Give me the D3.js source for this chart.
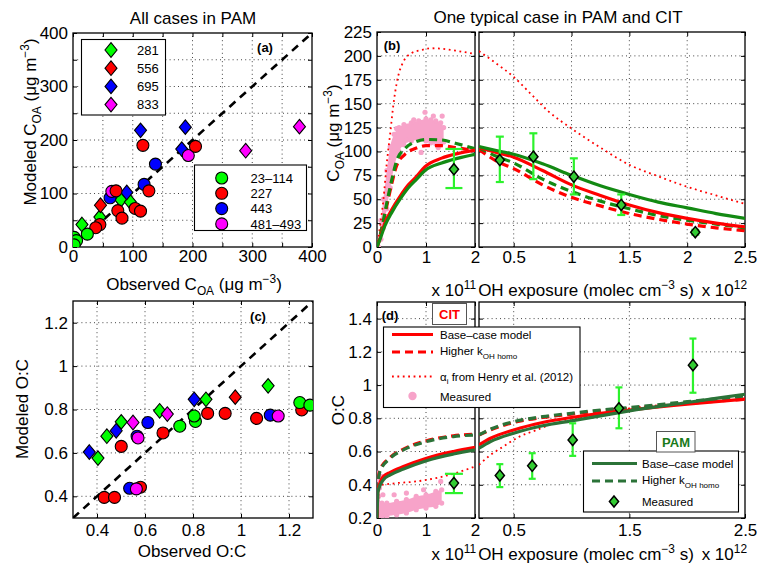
<!DOCTYPE html>
<html>
<head>
<meta charset="utf-8">
<script src="https://cdn.jsdelivr.net/npm/d3@7"></script>
<style>
  body { margin: 0; background: #fff; }
  svg { display: block; }
</style>
</head>
<body>
<svg id="fig" width="757" height="568"></svg>
<script>
const FONT = '"Liberation Sans", Arial, Helvetica, sans-serif';

// ---------- (a) all cases in PAM: observed vs modeled C_OA (ug m-3)
const aCircleRed = [[117,190],[205,188],[72,105],[127,105],[75,68],[104,72],[113,67],[82,54],[45,42],[38,36]];
const aCircleGreen = [[2,18],[6,12],[2,4],[24,24]];
const aCircleBlue = [[138,155],[119,117],[62,92]];
const aCircleMagenta = [[193,171],[65,104]];
const aDiamondGreen = [[15,42],[45,56],[80,88],[96,84]];
const aDiamondRed = [[46,78]];
const aDiamondBlue = [[113,218],[188,224],[182,183],[90,102]];
const aDiamondMagenta = [[379,225],[289,180]];

// ---------- (c) all cases in PAM: observed vs modeled O:C
const cCircleRed = [[0.43,0.395],[0.473,0.395],[0.501,0.63],[0.581,0.442],[0.675,0.692],[0.861,0.782],[0.934,0.782],[1.065,0.759],[1.253,0.798]];
const cCircleGreen = [[0.745,0.723],[0.81,0.745],[0.805,0.77],[1.245,0.832],[1.287,0.82]];
const cCircleBlue = [[0.536,0.437],[0.567,0.677],[0.612,0.74],[1.122,0.774]];
const cCircleMagenta = [[0.564,0.434],[0.571,0.669],[1.155,0.77]];
const cDiamondGreen = [[0.404,0.576],[0.441,0.677],[0.501,0.743],[0.661,0.794],[0.854,0.847],[1.113,0.909]];
const cDiamondRed = [[0.976,0.857]];
const cDiamondBlue = [[0.368,0.604],[0.48,0.702],[0.805,0.847]];
const cDiamondMagenta = [[0.55,0.74],[0.693,0.779]];

const legendDiamonds = ['281', '556', '695', '833'];
const legendCircles = ['23\u2013114', '227', '443', '481\u2013493'];
const groupColors = ['#00ff00', '#ff0000', '#0000ff', '#ff00ff'];

// ---------- (b) typical case, C_OA. CIT in 1e11 molec cm-3 s, PAM in 1e12
const bCitX = [0, 0.06, 0.16, 0.3, 0.47, 0.64, 0.81, 0.98, 1.32, 1.66, 2.0];
const bCitBaseRed = [0, 9, 25, 39, 53, 65, 74, 84, 93, 98, 101.5];
const bCitBaseGreen = [0, 8, 22, 36, 50, 62, 71, 80, 88, 93, 97];
const bCitHighX = [0, 0.1, 0.2, 0.3, 0.4, 0.57, 0.78, 1.0, 1.32, 1.6, 2.0];
const bCitHighGreen = [0, 20, 46, 70, 90, 103, 110, 112.5, 112, 108.5, 103];
const bCitHighRed = [0, 19, 43, 66, 85, 97, 103, 106, 106, 104, 101];
const bCitDotX = [0, 0.06, 0.13, 0.2, 0.27, 0.33, 0.4, 0.54, 0.71, 0.9, 1.12, 1.4, 1.66, 2.0];
const bCitDotRed = [0, 21, 49, 88, 119, 147, 171, 194, 203, 206, 208, 207, 205, 202];
const bCitMeasX = [0.03, 0.08, 0.13, 0.2, 0.27, 0.35, 0.45, 0.55, 0.7, 0.85, 1.0, 1.1, 1.2, 1.3, 1.36];
const bCitMeasLo = [0, 8, 20, 40, 62, 84, 100, 107, 111, 112, 111, 109, 108, 107, 110];
const bCitMeasHi = [6, 28, 50, 80, 105, 118, 125, 128, 130, 132, 134, 133, 132, 130, 125];
const bCitMeasDots = [[0.98,141],[0.75,133],[0.9,99],[0.6,112],[1.33,137],[1.25,104],[0.4,124],[1.15,137]];
const bCitObs = [[1.57, 81.3, 61.7, 102.6]];

const bPamX = [0.2, 0.35, 0.5, 0.75, 1.0, 1.25, 1.5, 1.75, 2.0, 2.25, 2.5];
const bPamBaseGreen = [105, 101, 97, 87, 75, 64, 55, 47, 41, 35, 30];
const bPamBaseRed = [104, 99, 94, 80, 65, 54, 44, 36, 30, 25, 21];
const bPamHighGreen = [104, 95, 88, 71, 58, 48, 40, 33, 28, 24, 20];
const bPamHighRed = [102, 90, 82, 65, 52, 43, 35, 29, 24, 20, 17];
const bPamDotX = [0.2, 0.35, 0.5, 0.65, 0.8, 1.0, 1.25, 1.5, 1.75, 2.0, 2.25, 2.5];
const bPamDotRed = [205, 192, 178, 160, 142, 124, 104, 86, 74, 63, 54, 45];
const bPamObs = [[0.38,91,68,115.5],[0.67,94.5,71,119],[1.02,73.6,55,92.8],[1.43,44,33.5,55],[2.07,15.5,13,18]];

// ---------- (d) typical case, O:C
const dCitX = [0, 0.02, 0.13, 0.27, 0.54, 1.01, 1.56, 2.0];
const dCitBaseRed = [0.2, 0.37, 0.45, 0.475, 0.51, 0.56, 0.6, 0.625];
const dCitBaseGreen = [0.2, 0.36, 0.43, 0.46, 0.495, 0.545, 0.585, 0.61];
const dCitHighX = [0, 0.02, 0.06, 0.27, 0.54, 1.01, 1.56, 2.0];
const dCitHighGreen = [0.2, 0.4, 0.48, 0.56, 0.61, 0.66, 0.69, 0.7];
const dCitHighRed = [0.2, 0.41, 0.49, 0.565, 0.615, 0.665, 0.695, 0.705];
const dCitDotX = [0.1, 0.4, 0.8, 1.2, 1.6, 2.0];
const dCitDotRed = [0.4, 0.41, 0.42, 0.44, 0.47, 0.51];
const dCitMeasX = [0.03, 0.1, 0.2, 0.4, 0.6, 0.8, 1.0, 1.2, 1.32];
const dCitMeasLo = [0.2, 0.2, 0.21, 0.22, 0.23, 0.25, 0.26, 0.27, 0.29];
const dCitMeasHi = [0.33, 0.29, 0.29, 0.3, 0.31, 0.33, 0.34, 0.36, 0.37];
const dCitMeasDots = [[0.02,0.47],[0.03,0.43],[0.05,0.38],[0.12,0.34],[0.35,0.34],[0.6,0.35],[0.95,0.37],[1.3,0.42],[0.1,0.45]];
const dCitObs = [[1.57, 0.41, 0.35, 0.466]];

const dPamX = [0.2, 0.3, 0.5, 0.75, 1.0, 1.25, 1.5, 2.0, 2.5];
const dPamBaseRed = [0.64, 0.68, 0.73, 0.775, 0.805, 0.83, 0.85, 0.885, 0.915];
const dPamBaseGreen = [0.62, 0.66, 0.71, 0.755, 0.785, 0.815, 0.845, 0.895, 0.945];
const dPamHighGreen = [0.70, 0.735, 0.78, 0.81, 0.83, 0.85, 0.865, 0.9, 0.935];
const dPamHighRed = [0.70, 0.73, 0.775, 0.805, 0.825, 0.845, 0.86, 0.89, 0.915];
const dPamDotX = [0.2, 0.3, 0.41, 0.55, 0.7, 0.85, 1.0, 1.25, 1.5, 2.0, 2.5];
const dPamDotRed = [0.52, 0.58, 0.63, 0.69, 0.73, 0.77, 0.79, 0.83, 0.86, 0.89, 0.915];
const dPamObs = [[0.38,0.456,0.386,0.524],[0.66,0.514,0.436,0.59],[1.01,0.67,0.574,0.77],[1.41,0.86,0.74,0.986],[2.05,1.12,0.954,1.28]];

// ---------- colours
const RED = '#ff0000';
const GREEN_B = '#138a13';
const GREEN_D = '#2b7338';
const PINK = '#f7a3c9';
const LIME = '#2cf22c';
const OBS_FILL = '#33cc33';

const svg = d3.select('#fig').attr('font-family', FONT);

// ---------- helpers
function rich(g, x, y, parts, opt = {}) {
  const size = opt.size || 17;
  const t = g.append('text').attr('x', x).attr('y', y)
    .attr('font-size', size).attr('text-anchor', opt.anchor || 'middle')
    .attr('fill', opt.fill || '#000');
  if (opt.weight) t.attr('font-weight', opt.weight);
  if (opt.rotate) t.attr('transform', `rotate(-90 ${x} ${y})`);
  let shift = 0;
  parts.forEach(p => {
    const [str, kind] = Array.isArray(p) ? p : [p, null];
    const target = kind === 'sub' ? size * 0.32 : kind === 'sup' ? -size * 0.42 : 0;
    const ts = t.append('tspan').attr('dy', target - shift).text(str);
    if (kind) ts.attr('font-size', size * 0.7);
    shift = target;
  });
  return t;
}

function grid(g, x, y, xs, ys) {
  const [yb, yt] = y.range(), [xl, xr] = x.range();
  g.append('g').selectAll('line').data(xs).join('line')
    .attr('x1', d => x(d)).attr('x2', d => x(d)).attr('y1', yb).attr('y2', yt);
  g.append('g').selectAll('line').data(ys).join('line')
    .attr('y1', d => y(d)).attr('y2', d => y(d)).attr('x1', xl).attr('x2', xr);
  g.selectAll('line').attr('stroke', '#444').attr('stroke-width', 1).attr('stroke-dasharray', '1,3.2');
}

function axes(g, x, y, o) {
  const [yb, yt] = y.range(), [xl, xr] = x.range();
  const style = s => s.attr('font-size', 17).attr('font-family', FONT)
    .call(s => s.select('.domain').remove())
    .call(s => s.selectAll('line').attr('stroke', '#000'));
  g.append('g').attr('transform', `translate(0,${yb})`)
    .call(d3.axisBottom(x).tickValues(o.xTicks).tickSize(-4).tickPadding(o.xPad)
      .tickFormat(o.xFmt)).call(style);
  g.append('g').attr('transform', `translate(0,${yt})`)
    .call(d3.axisTop(x).tickValues(o.xTicks).tickSize(-4).tickFormat('')).call(style);
  g.append('g').attr('transform', `translate(${xl},0)`)
    .call(d3.axisLeft(y).tickValues(o.yTicks).tickSize(-4).tickPadding(5)
      .tickFormat(o.yFmt || '')).call(style);
  g.append('g').attr('transform', `translate(${xr},0)`)
    .call(d3.axisRight(y).tickValues(o.yTicks).tickSize(-4).tickFormat('')).call(style);
  g.append('rect').attr('x', xl).attr('y', yt).attr('width', xr - xl).attr('height', yb - yt)
    .attr('fill', 'none').attr('stroke', '#000').attr('stroke-width', 1.3);
}

function clip(id, x, y) {
  const [yb, yt] = y.range(), [xl, xr] = x.range();
  svg.append('clipPath').attr('id', id).append('rect')
    .attr('x', xl).attr('y', yt).attr('width', xr - xl).attr('height', yb - yt);
  return svg.append('g').attr('clip-path', `url(#${id})`);
}

function diamondPath(w, h) { return `M0,${-h}L${w},0L0,${h}L${-w},0Z`; }

function scatter(g, x, y, pts, color, kind) {
  const sel = g.append('g').selectAll('path').data(pts).join('path')
    .attr('transform', d => `translate(${x(d[0])},${y(d[1])})`)
    .attr('fill', color).attr('stroke', '#000').attr('stroke-width', 1.1);
  if (kind === 'circle') sel.attr('d', d3.symbol(d3.symbolCircle, Math.PI * 36));
  else sel.attr('d', diamondPath(6, 7.3));
}

function curve(g, x, y, xs, ys, color, style) {
  const line = d3.line().x((d, i) => x(xs[i])).y(d => y(d)).curve(d3.curveMonotoneX);
  const p = g.append('path').attr('d', line(ys)).attr('fill', 'none').attr('stroke', color);
  if (style === 'solid') p.attr('stroke-width', 3.2);
  if (style === 'dash') p.attr('stroke-width', 3.2).attr('stroke-dasharray', '8,5');
  if (style === 'dot') p.attr('stroke-width', 1.8).attr('stroke-dasharray', '1.8,3.6');
}

function band(g, x, y, xs, lo, hi, dots) {
  const area = d3.area().x((d, i) => x(xs[i])).y0(d => y(d[0])).y1(d => y(d[1])).curve(d3.curveMonotoneX);
  g.append('path').attr('d', area(lo.map((v, i) => [v, hi[i]]))).attr('fill', PINK);
  const edge = xs.flatMap((v, i) => [[v, lo[i]], [v, hi[i]]]).concat(dots);
  g.append('g').selectAll('circle').data(edge).join('circle')
    .attr('cx', d => x(d[0])).attr('cy', d => y(d[1])).attr('r', 2.6).attr('fill', PINK);
}

function observed(g, x, y, obs, cap) {
  const e = g.append('g').attr('stroke', LIME).attr('stroke-width', 2.2);
  e.selectAll('.v').data(obs).join('line')
    .attr('x1', d => x(d[0])).attr('x2', d => x(d[0])).attr('y1', d => y(d[2])).attr('y2', d => y(d[3]));
  e.selectAll('.lo').data(obs).join('line')
    .attr('x1', d => x(d[0]) - cap).attr('x2', d => x(d[0]) + cap).attr('y1', d => y(d[2])).attr('y2', d => y(d[2]));
  e.selectAll('.hi').data(obs).join('line')
    .attr('x1', d => x(d[0]) - cap).attr('x2', d => x(d[0]) + cap).attr('y1', d => y(d[3])).attr('y2', d => y(d[3]));
  g.append('g').selectAll('path').data(obs).join('path')
    .attr('transform', d => `translate(${x(d[0])},${y(d[1])})`)
    .attr('d', diamondPath(4.6, 5.6)).attr('fill', OBS_FILL).attr('stroke', '#000').attr('stroke-width', 1.5);
}

function sample(g, x0, x1, yy, color, style) {
  const p = g.append('line').attr('x1', x0).attr('x2', x1).attr('y1', yy).attr('y2', yy).attr('stroke', color);
  if (style === 'solid') p.attr('stroke-width', 3.2);
  if (style === 'dash') p.attr('stroke-width', 3.2).attr('stroke-dasharray', '8,5');
  if (style === 'dot') p.attr('stroke-width', 1.8).attr('stroke-dasharray', '1.8,3.6');
}

// ---------- scales
const xA = d3.scaleLinear([0, 400], [73, 312]);
const yA = d3.scaleLinear([0, 400], [247, 33]);
const xL = d3.scaleLinear([0, 2], [377, 475]);
const xR = d3.scaleLinear([0.2, 2.5], [479, 745]);
const yB = d3.scaleLinear([0, 225], [247, 32]);
const xC = d3.scaleLinear([0.3, 1.3], [73, 313]);
const yC = d3.scaleLinear([0.3, 1.3], [518, 301]);
const yD = d3.scaleLinear([0.2, 1.5], [518, 302]);

// ================= panel (a)
{
  const g = svg.append('g');
  grid(g, xA, yA, d3.range(50, 400, 50), d3.range(50, 400, 50));
  const p = clip('clipA', xA, yA);
  p.append('line').attr('x1', xA(0)).attr('y1', yA(0)).attr('x2', xA(400)).attr('y2', yA(400))
    .attr('stroke', '#000').attr('stroke-width', 2.6).attr('stroke-dasharray', '8,6');
  scatter(p, xA, yA, aDiamondGreen, groupColors[0], 'diamond');
  scatter(p, xA, yA, aDiamondRed, groupColors[1], 'diamond');
  scatter(p, xA, yA, aDiamondBlue, groupColors[2], 'diamond');
  scatter(p, xA, yA, aDiamondMagenta, groupColors[3], 'diamond');
  scatter(p, xA, yA, aCircleBlue, groupColors[2], 'circle');
  scatter(p, xA, yA, aCircleMagenta, groupColors[3], 'circle');
  scatter(p, xA, yA, aCircleRed, groupColors[1], 'circle');
  scatter(p, xA, yA, aCircleGreen, groupColors[0], 'circle');
  axes(g, xA, yA, { xTicks: d3.range(0, 401, 50), yTicks: d3.range(0, 401, 50), xPad: 3,
    xFmt: d => d % 100 ? '' : d, yFmt: d => d % 100 ? '' : d });

  // legends
  const l1 = g.append('g');
  l1.append('rect').attr('x', 81.5).attr('y', 39.5).attr('width', 84).attr('height', 75.5)
    .attr('fill', '#fff').attr('stroke', '#000').attr('stroke-width', 1.1);
  legendDiamonds.forEach((lab, i) => {
    const yy = 50 + i * 18.2;
    l1.append('path').attr('transform', `translate(111,${yy})`).attr('d', diamondPath(6, 7.3))
      .attr('fill', groupColors[i]).attr('stroke', '#000').attr('stroke-width', 1.1);
    l1.append('text').attr('x', 137).attr('y', yy + 4.6).attr('font-size', 13).text(lab);
  });
  const l2 = g.append('g');
  l2.append('rect').attr('x', 194.5).attr('y', 165).attr('width', 112).attr('height', 65.5)
    .attr('fill', '#fff').attr('stroke', '#000').attr('stroke-width', 1.1);
  legendCircles.forEach((lab, i) => {
    const yy = 178 + i * 15.3;
    l2.append('circle').attr('cx', 221.7).attr('cy', yy).attr('r', 6)
      .attr('fill', groupColors[i]).attr('stroke', '#000').attr('stroke-width', 1.1);
    l2.append('text').attr('x', 250.5).attr('y', yy + 4.6).attr('font-size', 13).text(lab);
  });
  g.append('text').attr('x', 265).attr('y', 52).attr('font-size', 13).attr('font-weight', 'bold')
    .attr('text-anchor', 'middle').text('(a)');

  rich(g, 193, 24, ['All cases in PAM']);
  rich(g, 194, 290, ['Observed C', ['OA', 'sub'], ' (\u03bcg m', ['\u22123', 'sup'], ')']);
  rich(g, 36, 122, ['Modeled C', ['OA', 'sub'], ' (\u03bcg m', ['\u22123', 'sup'], ')'], { rotate: true });
}

// ================= panel (c)
{
  const g = svg.append('g');
  grid(g, xC, yC, d3.range(0.4, 1.25, 0.2), d3.range(0.4, 1.25, 0.2));
  const p = clip('clipC', xC, yC);
  p.append('line').attr('x1', xC(0.3)).attr('y1', yC(0.3)).attr('x2', xC(1.3)).attr('y2', yC(1.3))
    .attr('stroke', '#000').attr('stroke-width', 2.6).attr('stroke-dasharray', '8,6');
  scatter(p, xC, yC, cDiamondGreen, groupColors[0], 'diamond');
  scatter(p, xC, yC, cDiamondRed, groupColors[1], 'diamond');
  scatter(p, xC, yC, cDiamondBlue, groupColors[2], 'diamond');
  scatter(p, xC, yC, cDiamondMagenta, groupColors[3], 'diamond');
  scatter(p, xC, yC, cCircleRed, groupColors[1], 'circle');
  scatter(p, xC, yC, cCircleGreen, groupColors[0], 'circle');
  scatter(p, xC, yC, cCircleBlue, groupColors[2], 'circle');
  scatter(p, xC, yC, cCircleMagenta, groupColors[3], 'circle');
  axes(g, xC, yC, { xTicks: [0.4, 0.6, 0.8, 1, 1.2], yTicks: [0.4, 0.6, 0.8, 1, 1.2], xPad: 6,
    xFmt: d3.format('~g'), yFmt: d3.format('~g') });
  g.append('text').attr('x', 258).attr('y', 321).attr('font-size', 13).attr('font-weight', 'bold')
    .attr('text-anchor', 'middle').text('(c)');
  rich(g, 192, 557, ['Observed O:C']);
  rich(g, 28, 409, ['Modeled O:C'], { rotate: true });
}

// ================= panel (b)
{
  const g = svg.append('g');
  grid(g, xL, yB, [1], d3.range(25, 225, 25));
  grid(g, xR, yB, [0.5, 1, 1.5, 2], d3.range(25, 225, 25));
  const pl = clip('clipBL', xL, yB);
  band(pl, xL, yB, bCitMeasX, bCitMeasLo, bCitMeasHi, bCitMeasDots);
  curve(pl, xL, yB, bCitDotX, bCitDotRed, RED, 'dot');
  curve(pl, xL, yB, bCitHighX, bCitHighRed, RED, 'dash');
  curve(pl, xL, yB, bCitHighX, bCitHighGreen, GREEN_B, 'dash');
  curve(pl, xL, yB, bCitX, bCitBaseRed, RED, 'solid');
  curve(pl, xL, yB, bCitX, bCitBaseGreen, GREEN_B, 'solid');
  observed(pl, xL, yB, bCitObs, 8.5);
  const pr = clip('clipBR', xR, yB);
  curve(pr, xR, yB, bPamDotX, bPamDotRed, RED, 'dot');
  curve(pr, xR, yB, bPamX, bPamHighRed, RED, 'dash');
  curve(pr, xR, yB, bPamX, bPamHighGreen, GREEN_B, 'dash');
  curve(pr, xR, yB, bPamX, bPamBaseRed, RED, 'solid');
  curve(pr, xR, yB, bPamX, bPamBaseGreen, GREEN_B, 'solid');
  observed(pr, xR, yB, bPamObs, 4);
  axes(g, xL, yB, { xTicks: [0, 1, 2], yTicks: d3.range(0, 226, 25), xPad: 4,
    xFmt: d3.format('d'), yFmt: d3.format('d') });
  axes(g, xR, yB, { xTicks: [0.5, 1, 1.5, 2, 2.5], yTicks: d3.range(0, 226, 25), xPad: 4,
    xFmt: d3.format('~g') });
  g.append('text').attr('x', 392).attr('y', 50).attr('font-size', 13).attr('font-weight', 'bold')
    .attr('text-anchor', 'middle').text('(b)');

  rich(g, 558, 23, ['One typical case in PAM and CIT']);
  rich(g, 476, 296, ['x 10', ['11', 'sup']], { anchor: 'end' });
  rich(g, 586, 296, ['OH exposure (molec cm', ['\u22123', 'sup'], ' s)']);
  rich(g, 747, 296, ['x 10', ['12', 'sup']], { anchor: 'end' });
  rich(g, 339, 133, ['C', ['OA', 'sub'], ' (\u03bcg m', ['\u22123', 'sup'], ')'], { rotate: true });
}

// ================= panel (d)
{
  const g = svg.append('g');
  grid(g, xL, yD, [1], d3.range(0.4, 1.45, 0.2));
  grid(g, xR, yD, [0.5, 1.5], d3.range(0.4, 1.45, 0.2));
  const pl = clip('clipDL', xL, yD);
  band(pl, xL, yD, dCitMeasX, dCitMeasLo, dCitMeasHi, dCitMeasDots);
  curve(pl, xL, yD, dCitDotX, dCitDotRed, RED, 'dot');
  curve(pl, xL, yD, dCitHighX, dCitHighRed, RED, 'dash');
  curve(pl, xL, yD, dCitHighX, dCitHighGreen, GREEN_D, 'dash');
  curve(pl, xL, yD, dCitX, dCitBaseRed, RED, 'solid');
  curve(pl, xL, yD, dCitX, dCitBaseGreen, GREEN_D, 'solid');
  observed(pl, xL, yD, dCitObs, 9);
  const pr = clip('clipDR', xR, yD);
  curve(pr, xR, yD, dPamDotX, dPamDotRed, RED, 'dot');
  curve(pr, xR, yD, dPamX, dPamHighRed, RED, 'dash');
  curve(pr, xR, yD, dPamX, dPamBaseRed, RED, 'solid');
  curve(pr, xR, yD, dPamX, dPamBaseGreen, GREEN_D, 'solid');
  curve(pr, xR, yD, dPamX, dPamHighGreen, GREEN_D, 'dash');
  observed(pr, xR, yD, dPamObs, 3.5);
  const yT = [0.2, 0.4, 0.6, 0.8, 1, 1.2, 1.4];
  axes(g, xL, yD, { xTicks: [0, 1, 2], yTicks: yT, xPad: 6, xFmt: d3.format('d'), yFmt: d3.format('~g') });
  axes(g, xR, yD, { xTicks: [0.5, 1.5, 2.5], yTicks: yT, xPad: 6, xFmt: d3.format('~g') });

  // CIT legend
  const lg = g.append('g');
  lg.append('rect').attr('x', 383.5).attr('y', 327).attr('width', 196.5).attr('height', 80.5)
    .attr('fill', '#fff').attr('stroke', '#000').attr('stroke-width', 1.1);
  const lx0 = 392, lx1 = 433, tx = 440;
  sample(lg, lx0, lx1, 334.5, RED, 'solid');
  rich(lg, tx, 338.5, ['Base\u2013case model'], { size: 11.5, anchor: 'start' });
  sample(lg, lx0, lx1, 352, RED, 'dash');
  rich(lg, tx, 355, ['Higher k', ['OH homo', 'sub']], { size: 11.5, anchor: 'start' });
  sample(lg, lx0, lx1, 376.5, RED, 'dot');
  rich(lg, tx, 380.5, ['\u03b1', ['i', 'sub'], ' from Henry et al. (2012)'], { size: 11.5, anchor: 'start' });
  lg.append('circle').attr('cx', 412.5).attr('cy', 396).attr('r', 4.2).attr('fill', PINK);
  rich(lg, tx, 400.5, ['Measured'], { size: 11.5, anchor: 'start' });

  // CIT tag
  g.append('rect').attr('x', 432.5).attr('y', 303.5).attr('width', 34).attr('height', 21)
    .attr('fill', '#fff').attr('stroke', '#555').attr('stroke-width', 1);
  g.append('text').attr('x', 449.5).attr('y', 319).attr('text-anchor', 'middle').attr('font-size', 13)
    .attr('font-weight', 'bold').attr('fill', RED).text('CIT');

  // PAM legend
  const lp = g.append('g');
  lp.append('rect').attr('x', 583.5).attr('y', 451).attr('width', 155).attr('height', 61)
    .attr('fill', '#fff').attr('stroke', '#000').attr('stroke-width', 1.1);
  sample(lp, 592, 637, 463.5, GREEN_D, 'solid');
  rich(lp, 642, 467.5, ['Base\u2013case model'], { size: 11.5, anchor: 'start' });
  sample(lp, 592, 637, 481, GREEN_D, 'dash');
  rich(lp, 642, 484, ['Higher k', ['OH homo', 'sub']], { size: 11.5, anchor: 'start' });
  lp.append('path').attr('transform', 'translate(614,501.5)').attr('d', diamondPath(4.6, 5.6))
    .attr('fill', OBS_FILL).attr('stroke', '#000').attr('stroke-width', 1.5);
  rich(lp, 642, 505.5, ['Measured'], { size: 11.5, anchor: 'start' });

  // PAM tag
  g.append('rect').attr('x', 656.5).attr('y', 431.5).attr('width', 38.5).attr('height', 20.5)
    .attr('fill', '#fff').attr('stroke', '#555').attr('stroke-width', 1);
  g.append('text').attr('x', 676).attr('y', 447).attr('text-anchor', 'middle').attr('font-size', 13)
    .attr('font-weight', 'bold').attr('fill', '#1a7a1a').text('PAM');

  g.append('text').attr('x', 390).attr('y', 320).attr('font-size', 13).attr('font-weight', 'bold')
    .attr('text-anchor', 'middle').text('(d)');

  rich(g, 476, 560, ['x 10', ['11', 'sup']], { anchor: 'end' });
  rich(g, 586, 560, ['OH exposure (molec cm', ['\u22123', 'sup'], ' s)']);
  rich(g, 747, 560, ['x 10', ['12', 'sup']], { anchor: 'end' });
  rich(g, 344, 410, ['O:C'], { rotate: true });
}
</script>
</body>
</html>
